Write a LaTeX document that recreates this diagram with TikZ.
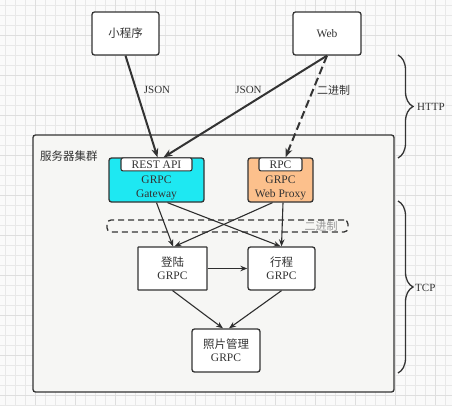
\documentclass[tikz,border=0pt]{standalone}
\usepackage{fontspec}
\setmainfont{Liberation Serif}
\newfontfamily\cjk{Noto Sans CJK SC}
\usetikzlibrary{arrows.meta,calc,decorations.pathreplacing}
\definecolor{ink}{RGB}{51,51,51}
\definecolor{bgc}{RGB}{250,250,250}
\definecolor{gridc}{RGB}{232,232,232}
\definecolor{gridm}{RGB}{222,222,222}
\definecolor{clusterc}{RGB}{246,246,244}
\definecolor{cyanc}{RGB}{30,232,242}
\definecolor{orangec}{RGB}{252,192,140}
\definecolor{greyt}{RGB}{150,150,150}
\begin{document}
\begin{tikzpicture}[x=1pt,y=-1pt,
  box/.style={draw=ink, line width=1.3pt, rounded corners=2.5pt, fill=white, text=ink, inner sep=0pt, align=center, font=\fontsize{11.5}{13}\selectfont},
  hdr/.style={draw=ink, line width=1.1pt, rounded corners=2pt, fill=white, text=ink, inner sep=0pt, anchor=north, minimum height=13pt, font=\fontsize{11.5}{12}\selectfont},
  txt/.style={text=ink, inner sep=0pt, align=center, font=\fontsize{11.5}{14}\selectfont},
  bigarrow/.style={draw=ink, line width=2pt, -{Stealth[length=9pt,width=7pt]}},
  smallarrow/.style={draw=ink!90!black, line width=1.1pt, -{Stealth[length=7pt,width=5.5pt]}},
  lbl/.style={text=ink, inner sep=0pt, font=\fontsize{11}{12}\selectfont},
  bracestyle/.style={draw=ink, line width=1.3pt, decorate, decoration={brace, amplitude=15pt}}
]
\useasboundingbox (0,0) rectangle (452,405);
\fill[bgc] (0,0) rectangle (452,405);
\foreach \x in {5,15,...,455} \draw[gridc, line width=0.5pt] (\x,0) -- (\x,405);
\foreach \y in {5,15,...,405} \draw[gridc, line width=0.5pt] (0,\y) -- (452,\y);
\foreach \x in {35,75,...,455} \draw[gridm, line width=0.6pt] (\x,0) -- (\x,405);
\foreach \y in {35,75,...,405} \draw[gridm, line width=0.6pt] (0,\y) -- (452,\y);

% cluster
\node[draw=ink, line width=1.3pt, rounded corners=2.5pt, fill=clusterc, minimum width=361pt, minimum height=257pt, inner sep=0pt] (cluster) at (213.5,263.5) {};
\node[lbl, anchor=west, font=\cjk\fontsize{11.5}{12}\selectfont] (clusterlbl) at (40,156) {服务器集群};

% top clients
\node[box, minimum width=67pt, minimum height=43pt, font=\cjk\fontsize{11.5}{13}\selectfont] (mini) at (125.5,33.5) {小程序};
\node[box, minimum width=68pt, minimum height=43pt] (web) at (327,33.5) {Web};

% gateway boxes
\node[box, fill=cyanc, minimum width=95pt, minimum height=44pt] (rest) at (156.5,180) {};
\node[hdr, minimum width=71pt] (resth) at (rest.north) {REST API};
\node[txt] (restt) at (156.5,187.5) {GRPC\\Gateway};

\node[box, fill=orangec, minimum width=65pt, minimum height=44pt] (rpc) at (280.5,180) {};
\node[hdr, minimum width=43pt] (rpch) at (rpc.north) {RPC};
\node[txt] (rpct) at (280.5,187.5) {GRPC\\Web Proxy};

% dashed binary band
\node[draw=ink, line width=1.3pt, dash pattern=on 6pt off 4pt, rounded corners=4pt, minimum width=241pt, minimum height=12pt, inner sep=0pt] (band) at (227.5,226) {};
\node[text=greyt, inner sep=0pt, font=\cjk\fontsize{11}{12}\selectfont] (bandlbl) at (321,226) {二进制};

% services
\node[box, rounded corners=0.5pt, line width=1.1pt, minimum width=69pt, minimum height=43pt, font=\fontsize{11.5}{13}\selectfont] (login) at (172.5,268.5) {{\cjk 登陆}\\GRPC};
\node[box, minimum width=67pt, minimum height=43pt] (trip) at (281.5,268.5) {{\cjk 行程}\\GRPC};
\node[box, minimum width=68pt, minimum height=43pt] (photo) at (226,350.5) {{\cjk 照片管理}\\GRPC};

% top arrows
\draw[bigarrow] (mini.south) -- ([xshift=1pt]rest.north);
\draw[bigarrow] (web.south) -- ([xshift=7pt]rest.north);
\draw[bigarrow, dash pattern=on 8pt off 4pt] (web.south) -- ([xshift=5pt]rpc.north);
\node[lbl] (j1) at (157,90) {JSON};
\node[lbl] (j2) at (248.5,90) {JSON};
\node[lbl, font=\cjk\fontsize{11}{12}\selectfont] (bin) at (333.5,90) {二进制};

% inner arrows
\draw[smallarrow] (rest.south) -- ([xshift=0.5pt]login.north);
\draw[smallarrow] ([xshift=11pt]rest.south) -- ([xshift=-1pt]trip.north);
\draw[smallarrow] ([xshift=-8pt]rpc.south) -- ([xshift=2pt]login.north);
\draw[smallarrow] ([xshift=2.5pt]rpc.south) -- (trip.north);
\draw[smallarrow] (login.east) -- (trip.west);
\draw[smallarrow] (login.south) -- ([xshift=-3pt]photo.north);
\draw[smallarrow] (trip.south) -- ([xshift=3pt]photo.north);

% braces
\coordinate (h1) at (398,55);
\coordinate (h2) at (398,158);
\coordinate (t1) at (398,201);
\coordinate (t2) at (398,373);
\draw[bracestyle] (h1) -- (h2);
\draw[bracestyle] (t1) -- (t2);
\node[lbl, anchor=west] (http) at (417,107) {HTTP};
\node[lbl, anchor=west] (tcp) at (415,288) {TCP};
\end{tikzpicture}
\end{document}
